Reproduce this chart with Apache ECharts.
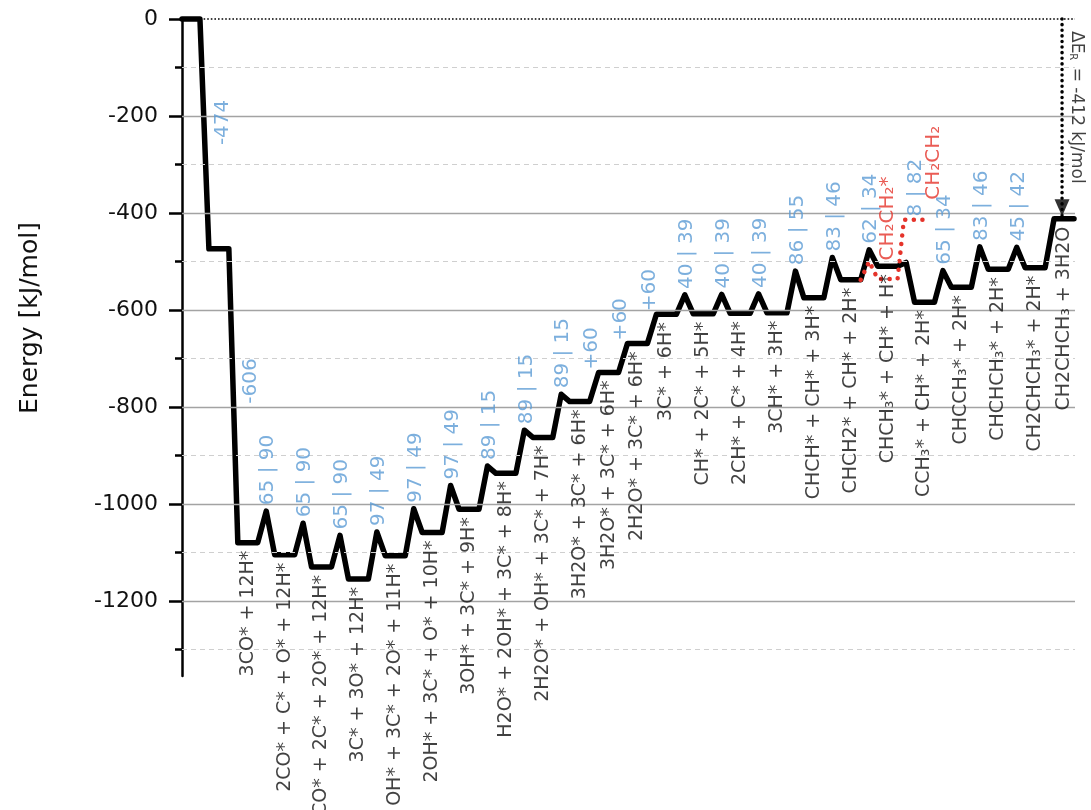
<!DOCTYPE html>
<html><head><meta charset="utf-8">
<script src="https://cdn.jsdelivr.net/npm/echarts@6/dist/echarts.min.js"></script>
<style>html,body{margin:0;padding:0;background:#fff}#c{width:1091px;height:810px}</style>
</head><body><div id="c"></div>
<script>
// ---------------- data ----------------
const stateLabels = ['', '', '3CO* + 12H*', '2CO* + C* + O* + 12H*', 'CO* + 2C* + 2O* + 12H*', '3C* + 3O* + 12H*',
  'OH* + 3C* + 2O* + 11H*', '2OH* + 3C* + O* + 10H*', '3OH* + 3C* + 9H*', 'H2O* + 2OH* + 3C* + 8H*',
  '2H2O* + OH* + 3C* + 7H*', '3H2O* + 3C* + 6H*', '3H2O* + 3C* + 6H*', '2H2O* + 3C* + 6H*', '3C* + 6H*',
  'CH* + 2C* + 5H*', '2CH* + C* + 4H*', '3CH* + 3H*', 'CHCH* + CH* + 3H*', 'CHCH2* + CH* + 2H*',
  'CHCH\u2083* + CH* + H*', 'CCH\u2083* + CH* + 2H*', 'CHCCH\u2083* + 2H*', 'CHCHCH\u2083* + 2H*',
  'CH2CHCH\u2083* + 2H*', 'CH2CHCH\u2083 + 3H2O'];
const stateEnergy = [0, -474, -1080, -1105, -1130, -1155, -1107, -1059, -1011, -937, -863, -789, -729, -669, -609,
  -608, -607, -606, -575, -538, -510, -584, -553, -516, -513, -412];
const barrierFwd = [null, null, 65, 65, 65, 97, 97, 97, 89, 89, 89, null, null, null, 40, 40, 40, 86, 83, 62, 8, 65, 83, 45, null];
const barrierRev = [null, null, 90, 90, 90, 49, 49, 49, 15, 15, 15, null, null, null, 39, 39, 39, 55, 46, 34, 82, 34, 46, 42, null];
const stepLabels = ['-474', '-606', '', '', '', '', '', '', '', '', '', '+60', '+60', '+60', '', '', '', '', '', '', '', '', '', '', ''];
const redLabels = ['CH\u2082CH\u2082*', 'CH\u2082CH\u2082'];
const redEnergy = [-500, -536, -414];   // TS, adsorbed, gas phase
const redFromState = 19;
const reactionEnergy = -412;
const yMajorTicks = [0, -200, -400, -600, -800, -1000, -1200];
const yMinorTicks = [-100, -300, -500, -700, -900, -1100, -1300];
const yName = 'Energy [kJ/mol]';

// ---------------- layout ----------------
const FONT = 'DejaVu Sans';
const BLUE = '#5b9bd5', RED = '#e5332a';
const L = {P: 1, T: 0.85, D: 0.45, P0: 0.9};
const yMin = -1355;
const tsLabelTweak = {20: {dx: 0.5, lift: 46}};

const plat = [[0, L.P0]];
let cx = L.P0;
for (let i = 0; i < barrierFwd.length; i++) {
  const w = barrierFwd[i] != null ? L.T : L.D;
  const x0 = cx + w;
  plat.push([x0, x0 + L.P]);
  cx = x0 + L.P;
}
const xMax = cx + 0.05;

const mainPts = [];
for (let i = 0; i < stateEnergy.length; i++) {
  mainPts.push([plat[i][0], stateEnergy[i]], [plat[i][1], stateEnergy[i]]);
  if (i < barrierFwd.length && barrierFwd[i] != null)
    mainPts.push([plat[i][1] + L.T / 2, stateEnergy[i] + barrierFwd[i]]);
}

const rs = redFromState;
const redX0 = plat[rs][1];
const redPts = [
  [redX0, stateEnergy[rs]],
  [redX0 + L.T / 2, redEnergy[0]],
  [plat[rs + 1][0], redEnergy[1]],
  [plat[rs + 1][1], redEnergy[1]],
  [plat[rs + 1][1] + L.D * 0.7, redEnergy[2]],
  [plat[rs + 1][1] + L.D * 0.7 + L.P, redEnergy[2]]
];

const base = {show: true, position: 'inside', formatter: '{b}', fontFamily: FONT, textBorderWidth: 0, textShadowBlur: 0};
const labels = [];
stateLabels.forEach((t, i) => {
  if (!t) return;
  labels.push({name: t, value: [(plat[i][0] + plat[i][1]) / 2, stateEnergy[i]],
    label: Object.assign({}, base, {rotate: 90, align: 'right', verticalAlign: 'middle', padding: [0, 8, 0, 0], color: '#111', fontSize: 19})});
});
barrierFwd.forEach((f, i) => {
  if (f == null) return;
  const tw = tsLabelTweak[i] || {dx: 0.1, lift: 6};
  labels.push({name: f + ' | ' + barrierRev[i], value: [plat[i][1] + L.T / 2 + tw.dx, stateEnergy[i] + f],
    label: Object.assign({}, base, {rotate: 90, align: 'left', verticalAlign: 'middle', padding: [0, 0, 0, tw.lift], color: BLUE, fontSize: 20})});
});
stepLabels.forEach((t, i) => {
  if (!t) return;
  const e0 = stateEnergy[i], e1 = stateEnergy[i + 1];
  if (e1 < e0) {
    const xm = (plat[i][1] + plat[i + 1][0]) / 2 + 0.9;
    labels.push({name: t, value: [xm, e0 + 0.45 * (e1 - e0)],
      label: Object.assign({}, base, {rotate: 90, align: 'center', verticalAlign: 'middle', color: BLUE, fontSize: 20})});
  } else {
    labels.push({name: t, value: [plat[i][1] + 0.1, e1],
      label: Object.assign({}, base, {rotate: 90, align: 'left', verticalAlign: 'middle', padding: [0, 0, 0, 3], color: BLUE, fontSize: 20})});
  }
});
labels.push({name: redLabels[0], value: [(plat[rs + 1][0] + plat[rs + 1][1]) / 2, redEnergy[0]],
  label: Object.assign({}, base, {rotate: 90, align: 'left', verticalAlign: 'middle', padding: [0, 0, 0, 1], color: RED, fontSize: 20})});
labels.push({name: redLabels[1], value: [redPts[5][0], redEnergy[2]],
  label: Object.assign({}, base, {rotate: 90, align: 'left', verticalAlign: 'top', padding: [0, 0, 0, 20], color: RED, fontSize: 20})});

const last = stateEnergy.length - 1;
const arrowX = (plat[last][0] + plat[last][1]) / 2 - 0.1;
labels.push({name: 'dE', value: [arrowX, 0],
  label: Object.assign({}, base, {rotate: -90, align: 'left', verticalAlign: 'bottom', padding: [0, 0, 6, 12],
    formatter: '{a|\u0394E}{s|R}{a| = ' + reactionEnergy + ' kJ/mol}',
    rich: {a: {fontSize: 17, color: '#111', fontFamily: FONT},
      s: {fontSize: 10, color: '#111', fontFamily: FONT, verticalAlign: 'bottom', padding: [0, 2, 0, 0]}}})});

const chart = echarts.init(document.getElementById('c'), null, {renderer: 'canvas'});
chart.setOption({
  animation: false,
  backgroundColor: '#fff',
  textStyle: {fontFamily: FONT},
  grid: {left: 182, right: 16, top: 19, bottom: 134, containLabel: false},
  xAxis: {type: 'value', min: 0, max: xMax, show: false},
  yAxis: [{
    type: 'value', min: yMin, max: 0, position: 'left',
    axisLine: {show: true, onZero: false, lineStyle: {color: '#000', width: 2.5}},
    axisTick: {show: true, customValues: yMajorTicks, length: 13, lineStyle: {color: '#000', width: 2.5}},
    axisLabel: {customValues: yMajorTicks, formatter: v => String(v), fontSize: 22, color: '#111', margin: 24, fontFamily: FONT},
    splitLine: {show: false}
  }, {
    type: 'value', min: yMin, max: 0, position: 'left',
    axisLine: {show: false},
    axisTick: {show: true, customValues: yMinorTicks, length: 7, lineStyle: {color: '#000', width: 2.5}},
    axisLabel: {show: false}, splitLine: {show: false}
  }],
  graphic: [{type: 'text', x: 30, y: 318, rotation: Math.PI / 2,
    style: {text: yName, fontSize: 25, fontFamily: FONT, fill: '#111', align: 'center', verticalAlign: 'middle'}}],
  series: [
    {type: 'line', z: 1, data: [], symbol: 'none', silent: true,
      markLine: {silent: true, symbol: 'none', label: {show: false}, animation: false,
        data: yMajorTicks.filter(v => v !== 0).map(v => ({yAxis: v, lineStyle: {color: '#a3a3a3', width: 1.3, type: 'solid'}}))
          .concat(yMinorTicks.map(v => ({yAxis: v, lineStyle: {color: '#cfcfcf', width: 1.2, type: [5, 4]}})))
          .concat([{yAxis: 0, lineStyle: {color: '#000', width: 1.6, type: [1.6, 2]}}])}},
    {type: 'line', z: 3, data: mainPts, symbol: 'none', smooth: false, clip: false, silent: true,
      lineStyle: {color: '#000', width: 5.5, join: 'round', cap: 'round'}},
    {type: 'line', z: 4, data: redPts, symbol: 'none', smooth: false, clip: false, silent: true,
      lineStyle: {color: RED, width: 4.5, type: [0.1, 8.5], cap: 'round', join: 'round'}},
    {type: 'line', z: 4, data: [[arrowX, 0], [arrowX, reactionEnergy]], symbol: 'none', silent: true, clip: false,
      lineStyle: {color: '#000', width: 3.5, type: [0.1, 5.5], cap: 'round'}},
    {type: 'scatter', z: 5, data: [[arrowX, reactionEnergy]], silent: true, clip: false,
      symbol: 'path://M0,0 L10,0 L5,11 Z', symbolSize: [15, 17], symbolOffset: [0, -11],
      itemStyle: {color: '#000'}},
    {type: 'scatter', z: 6, data: labels, symbol: 'circle', symbolSize: 1, silent: true,
      itemStyle: {color: 'rgba(0,0,0,0)'}}
  ]
});
</script></body></html>
